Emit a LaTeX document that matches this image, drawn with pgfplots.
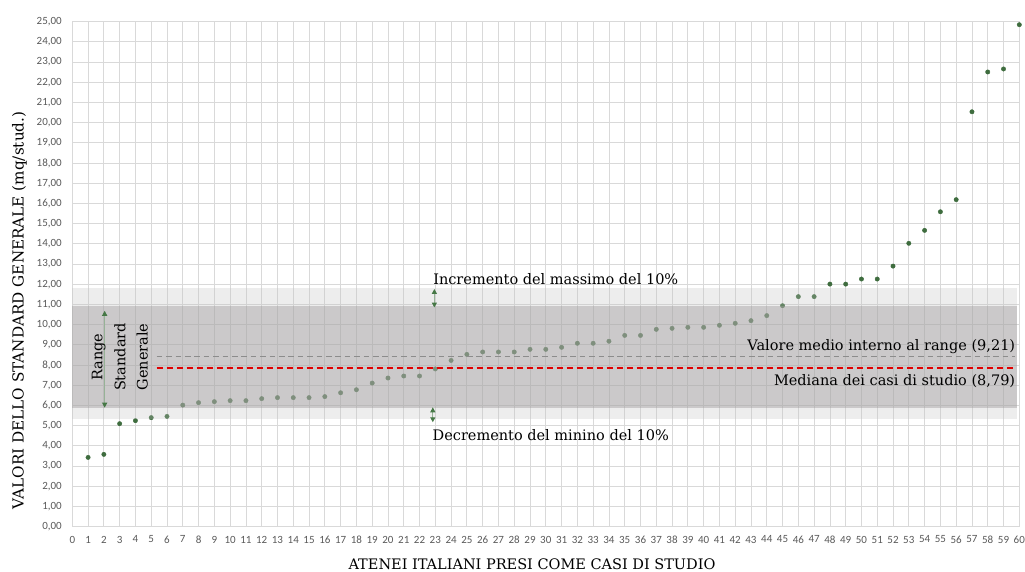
\documentclass[border=0pt]{standalone}
\usepackage{fontspec}
\setmainfont{DejaVu Serif}
\newfontfamily\carlito{Carlito}
\usepackage{pgfplots}
\pgfplotsset{compat=1.18}
\usetikzlibrary{arrows.meta}
\definecolor{ptgreen}{RGB}{62,108,62}
\definecolor{gridc}{RGB}{217,217,217}
\definecolor{ticklab}{RGB}{89,89,89}
\definecolor{bandlight}{RGB}{193,193,193}
\definecolor{banddark}{RGB}{169,166,167}
\definecolor{arrowgreen}{RGB}{70,120,70}
\definecolor{arrowline}{RGB}{150,178,150}
\definecolor{medred}{RGB}{224,0,0}
\definecolor{avggray}{RGB}{140,140,140}
\newcommand{\lab}{\fontsize{14.5}{17}\selectfont}
\begin{document}
\begin{tikzpicture}[x=1pt,y=1pt]
\useasboundingbox (0,0) rectangle (1025,572);
\begin{axis}[
  at={(72.3pt,45.3pt)}, anchor=south west,
  scale only axis, width=947pt, height=505pt,
  xmin=0, xmax=60, ymin=0, ymax=25,
  xtick={0,...,60}, ytick={0,...,25},
  grid=major, major grid style={draw=gridc, line width=0.8pt},
  axis line style={draw=gridc, line width=0.8pt},
  major tick length=0pt,
  /pgf/number format/assume math mode=true,
  tick label style={font=\carlito\fontsize{11}{13}\selectfont, text=ticklab},
  yticklabel={\pgfmathprintnumber[fixed,fixed zerofill,precision=2,use comma]{\tick}},
  xticklabel={\pgfmathprintnumber[fixed,precision=0]{\tick}},
  yticklabel style={xshift=-7pt},
  xticklabel style={yshift=-5.7pt},
  clip=false,
  clip marker paths=true,
]
\addplot[only marks, mark=*, mark size=2.2pt, color=ptgreen] coordinates {
(1,3.43) (2,3.58) (3,5.10) (4,5.25) (5,5.40) (6,5.46) (7,6.02) (8,6.14) (9,6.19) (10,6.24)
(11,6.24) (12,6.34) (13,6.39) (14,6.39) (15,6.39) (16,6.44) (17,6.63) (18,6.78) (19,7.11) (20,7.36)
(21,7.46) (22,7.46) (23,7.81) (24,8.23) (25,8.53) (26,8.65) (27,8.65) (28,8.65) (29,8.78) (30,8.78)
(31,8.88) (32,9.08) (33,9.08) (34,9.18) (35,9.47) (36,9.47) (37,9.77) (38,9.82) (39,9.87) (40,9.87)
(41,9.97) (42,10.07) (43,10.20) (44,10.45) (45,10.94) (46,11.39) (47,11.39) (48,12.01) (49,12.01) (50,12.26)
(51,12.26) (52,12.90) (53,14.03) (54,14.67) (55,15.59) (56,16.19) (57,20.54) (58,22.51) (59,22.66) (60,24.85)
};
% bands
\addplot[draw=none, fill=bandlight, fill opacity=0.29] coordinates {(0,10.92) (59.85,10.92) (59.85,11.82) (0,11.82)} --cycle;
\addplot[draw=none, fill=bandlight, fill opacity=0.29] coordinates {(0,5.33) (59.85,5.33) (59.85,5.88) (0,5.88)} --cycle;
\addplot[draw=none, fill=banddark, fill opacity=0.606] coordinates {(0,5.88) (59.85,5.88) (59.85,10.92) (0,10.92)} --cycle;
% lines
\addplot[avggray, line width=1.3pt, dash pattern=on 5.7pt off 3.7pt] coordinates {(5.35,8.42) (59.75,8.42)};
\addplot[medred, line width=2pt, dash pattern=on 6.7pt off 3.3pt] coordinates {(5.35,7.87) (59.75,7.87)};
% arrows
\addplot[arrowline, line width=1.2pt, {Triangle[width=5pt,length=5pt,color=arrowgreen]}-{Triangle[width=5pt,length=5pt,color=arrowgreen]}] coordinates {(2.05,5.89) (2.05,10.69)};
\addplot[arrowline, line width=1.2pt, {Triangle[width=5pt,length=5pt,color=arrowgreen]}-{Triangle[width=5pt,length=5pt,color=arrowgreen]}] coordinates {(22.94,10.85) (22.94,11.77)};
\addplot[arrowline, line width=1.2pt, {Triangle[width=5pt,length=5pt,color=arrowgreen]}-{Triangle[width=5pt,length=5pt,color=arrowgreen]}] coordinates {(22.84,5.17) (22.84,5.91)};
% texts
\node[anchor=base west, inner sep=0pt, font=\lab] at (axis cs:22.86,12.01) {Incremento del massimo del 10\%};
\node[anchor=base west, inner sep=0pt, font=\lab] at (axis cs:22.82,4.29) {Decremento del minino del 10\%};
\node[anchor=base east, inner sep=0pt, font=\lab] at (axis cs:59.75,8.71) {Valore medio interno al range (9,21)};
\node[anchor=base east, inner sep=0pt, font=\lab] at (axis cs:59.75,6.98) {Mediana dei casi di studio (8,79)};
\node[rotate=90, anchor=base, inner sep=0pt, font=\lab] at (axis cs:1.90,8.4) {Range};
\node[rotate=90, anchor=base, inner sep=0pt, font=\lab] at (axis cs:3.36,8.4) {Standard};
\node[rotate=90, anchor=base, inner sep=0pt, font=\lab] at (axis cs:4.78,8.4) {Generale};
\end{axis}
\node[rotate=90, anchor=base, inner sep=0pt, font=\fontsize{15.2}{17}\selectfont] at (23.6,261.5) {VALORI DELLO STANDARD GENERALE (mq/stud.)};
\node[anchor=base, inner sep=0pt, font=\lab] at (532,2.5) {ATENEI ITALIANI PRESI COME CASI DI STUDIO};
\end{tikzpicture}
\end{document}
